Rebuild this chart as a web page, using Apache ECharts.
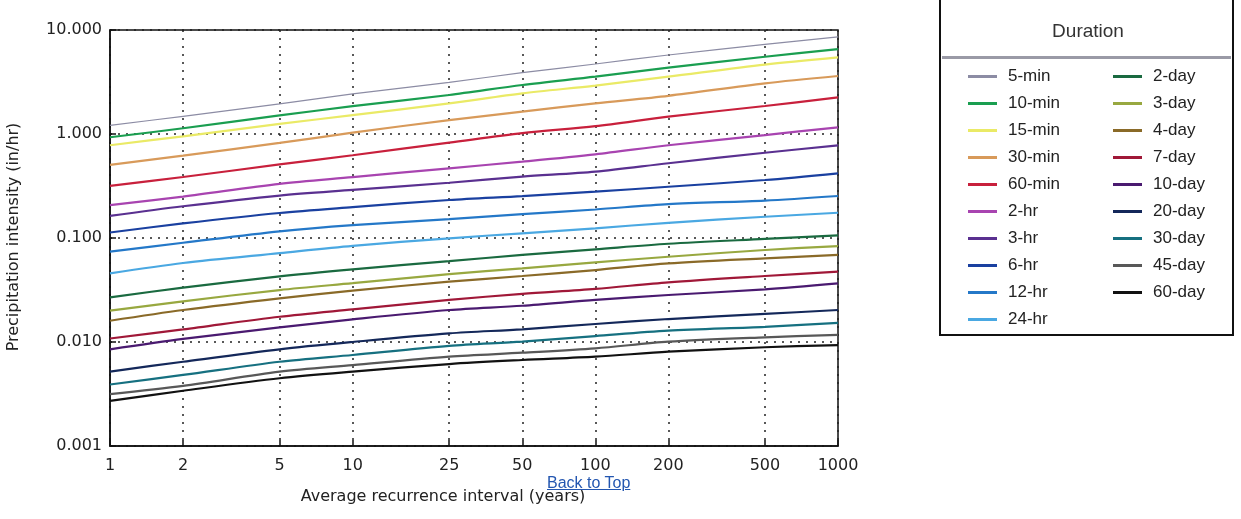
<!DOCTYPE html>
<html><head><meta charset="utf-8">
<script src="https://cdn.jsdelivr.net/npm/echarts@6/dist/echarts.min.js"></script>
<style>
html,body{margin:0;padding:0;background:#fff;}
#c{width:1241px;height:519px;}
#top{position:absolute;left:547px;top:474px;font:16px "Liberation Sans",Arial,sans-serif;color:#2356b0;text-decoration:underline;}
</style>
</head><body>
<div id="c"></div>
<a id="top" href="#">Back to Top</a>
<script>
// Average recurrence intervals (years)
const returnPeriods = [1, 2, 5, 10, 25, 50, 100, 200, 500, 1000];
const xTicks = [1, 2, 5, 10, 25, 50, 100, 200, 500, 1000];
const durationNames = ['5-min','10-min','15-min','30-min','60-min','2-hr','3-hr','6-hr','12-hr','24-hr',
                       '2-day','3-day','4-day','7-day','10-day','20-day','30-day','45-day','60-day'];
const durationColors = ['#8c8ca4','#1a9e50','#eaea66','#d89a5a','#c8203c','#a844b0','#5a3090','#1a40a0','#2478c8','#4aa8e2',
                        '#1a6a40','#98a840','#8a6a28','#a01838','#4a1a70','#14285a','#167080','#585858','#111111'];
// Precipitation intensity (in/hr) per duration, at returnPeriods
const v5min  = [1.21, 1.48, 1.95, 2.43, 3.14, 3.89, 4.71, 5.75, 7.28, 8.6];
const v10min = [0.93, 1.135, 1.51, 1.85, 2.37, 2.96, 3.56, 4.34, 5.53, 6.56];
const v15min = [0.78, 0.95, 1.25, 1.52, 1.97, 2.46, 2.92, 3.56, 4.65, 5.46];
const v30min = [0.505, 0.62, 0.82, 1.03, 1.36, 1.64, 1.97, 2.33, 3.07, 3.61];
const v60min = [0.317, 0.386, 0.51, 0.625, 0.826, 1.02, 1.19, 1.47, 1.86, 2.25];
const v2hr   = [0.207, 0.25, 0.332, 0.385, 0.468, 0.542, 0.637, 0.78, 0.977, 1.16];
const v3hr   = [0.163, 0.202, 0.256, 0.29, 0.34, 0.389, 0.434, 0.523, 0.66, 0.778];
const v6hr   = [0.113, 0.138, 0.174, 0.198, 0.232, 0.253, 0.279, 0.311, 0.361, 0.419];
const v12hr  = [0.074, 0.090, 0.116, 0.133, 0.152, 0.17, 0.188, 0.212, 0.229, 0.2535];
const v24hr  = [0.0457, 0.0575, 0.0715, 0.084, 0.0993, 0.111, 0.124, 0.14, 0.160, 0.175];
const v2day  = [0.0269, 0.0333, 0.0428, 0.050, 0.060, 0.0687, 0.0778, 0.088, 0.098, 0.106];
const v3day  = [0.0200, 0.0246, 0.0316, 0.0368, 0.045, 0.051, 0.0583, 0.066, 0.0767, 0.0837];
const v4day  = [0.0160, 0.0203, 0.0263, 0.0312, 0.038, 0.0431, 0.0492, 0.057, 0.0638, 0.0687];
const v7day  = [0.0108, 0.0132, 0.0175, 0.0206, 0.0254, 0.029, 0.0324, 0.0375, 0.0431, 0.0474];
const v10day = [0.0085, 0.0107, 0.0138, 0.0165, 0.0203, 0.0223, 0.0254, 0.0283, 0.0321, 0.0366];
const v20day = [0.0052, 0.00646, 0.0085, 0.0100, 0.0121, 0.01324, 0.0149, 0.01663, 0.0186, 0.0203];
const v30day = [0.0039, 0.00482, 0.00646, 0.0075, 0.00917, 0.01007, 0.0114, 0.01285, 0.014, 0.0153];
const v45day = [0.00315, 0.00378, 0.00519, 0.0060, 0.00723, 0.00789, 0.00869, 0.01007, 0.0111, 0.0117];
const v60day = [0.00272, 0.0034, 0.00448, 0.00519, 0.00614, 0.00671, 0.00723, 0.00807, 0.0089, 0.00935];
const allValues = [v5min, v10min, v15min, v30min, v60min, v2hr, v3hr, v6hr, v12hr, v24hr,
                   v2day, v3day, v4day, v7day, v10day, v20day, v30day, v45day, v60day];

const chart = echarts.init(document.getElementById('c'), null, {renderer: 'canvas'});
const series = durationNames.map((name, i) => ({
  name: name,
  type: 'line',
  data: returnPeriods.map((rp, j) => [rp, allValues[i][j]]),
  showSymbol: false,
  smooth: 0.3,
  color: durationColors[i],
  lineStyle: {width: i === 0 ? 1.2 : 2.2, color: durationColors[i]},
  emphasis: {disabled: true},
  silent: true
}));
const legendCommon = {
  orient: 'vertical', icon: 'rect', itemWidth: 29, itemHeight: 3, itemGap: 10,
  top: 63, selectedMode: false,
  textStyle: {fontFamily: 'Liberation Sans', fontSize: 17, color: '#222', lineHeight: 17, padding: [0,0,0,6]}
};
const axisFont = {fontFamily: 'DejaVu Sans', fontSize: 16, color: '#222'};
chart.setOption({
  animation: false,
  backgroundColor: '#fff',
  grid: {left: 110, top: 30, width: 728, height: 416, show: true, borderColor: '#111', borderWidth: 1.5},
  xAxis: {
    type: 'log', logBase: 10, min: 1, max: 1000,
    axisLine: {lineStyle: {color: '#111', width: 1.5}},
    axisTick: {inside: true, length: 6, lineStyle: {color: '#111', width: 1.5}, customValues: xTicks},
    axisLabel: Object.assign({margin: 12, customValues: xTicks, formatter: v => String(Math.round(v))}, axisFont),
    splitLine: {show: true, lineStyle: {color: '#222', width: 1.5, type: [2, 6]}},
    minorTick: {show: false}
  },
  yAxis: {
    type: 'log', logBase: 10, min: 0.001, max: 10,
    axisLine: {lineStyle: {color: '#111', width: 1.5}},
    axisTick: {inside: true, length: 6, lineStyle: {color: '#111', width: 1.5}},
    axisLabel: Object.assign({margin: 8, formatter: v => Number(v).toFixed(3)}, axisFont),
    splitLine: {show: true, lineStyle: {color: '#222', width: 1.5, type: [2, 6]}}
  },
  legend: [
    Object.assign({left: 963, data: durationNames.slice(0, 10)}, legendCommon),
    Object.assign({left: 1108, data: durationNames.slice(10)}, legendCommon)
  ],
  graphic: [
    {type: 'rect', shape: {x: 940, y: -4, width: 293, height: 339}, style: {fill: 'none', stroke: '#111', lineWidth: 2}, z: 10},
    {type: 'line', shape: {x1: 942, y1: 57.5, x2: 1231, y2: 57.5}, style: {stroke: '#9a9aa6', lineWidth: 3}, z: 10},
    {type: 'text', x: 1088, y: 32, style: {text: 'Duration', font: '19px "Liberation Sans"', fill: '#333', align: 'center', verticalAlign: 'middle'}, z: 10},
    {type: 'text', x: 14, y: 237, rotation: Math.PI / 2, style: {text: 'Precipitation intensity (in/hr)', font: '16px "DejaVu Sans"', fill: '#222', align: 'center', verticalAlign: 'middle'}},
    {type: 'text', x: 443, y: 497, style: {text: 'Average recurrence interval (years)', font: '16px "DejaVu Sans"', fill: '#222', align: 'center', verticalAlign: 'middle'}}
  ],
  series: series
});
</script>
</body></html>
